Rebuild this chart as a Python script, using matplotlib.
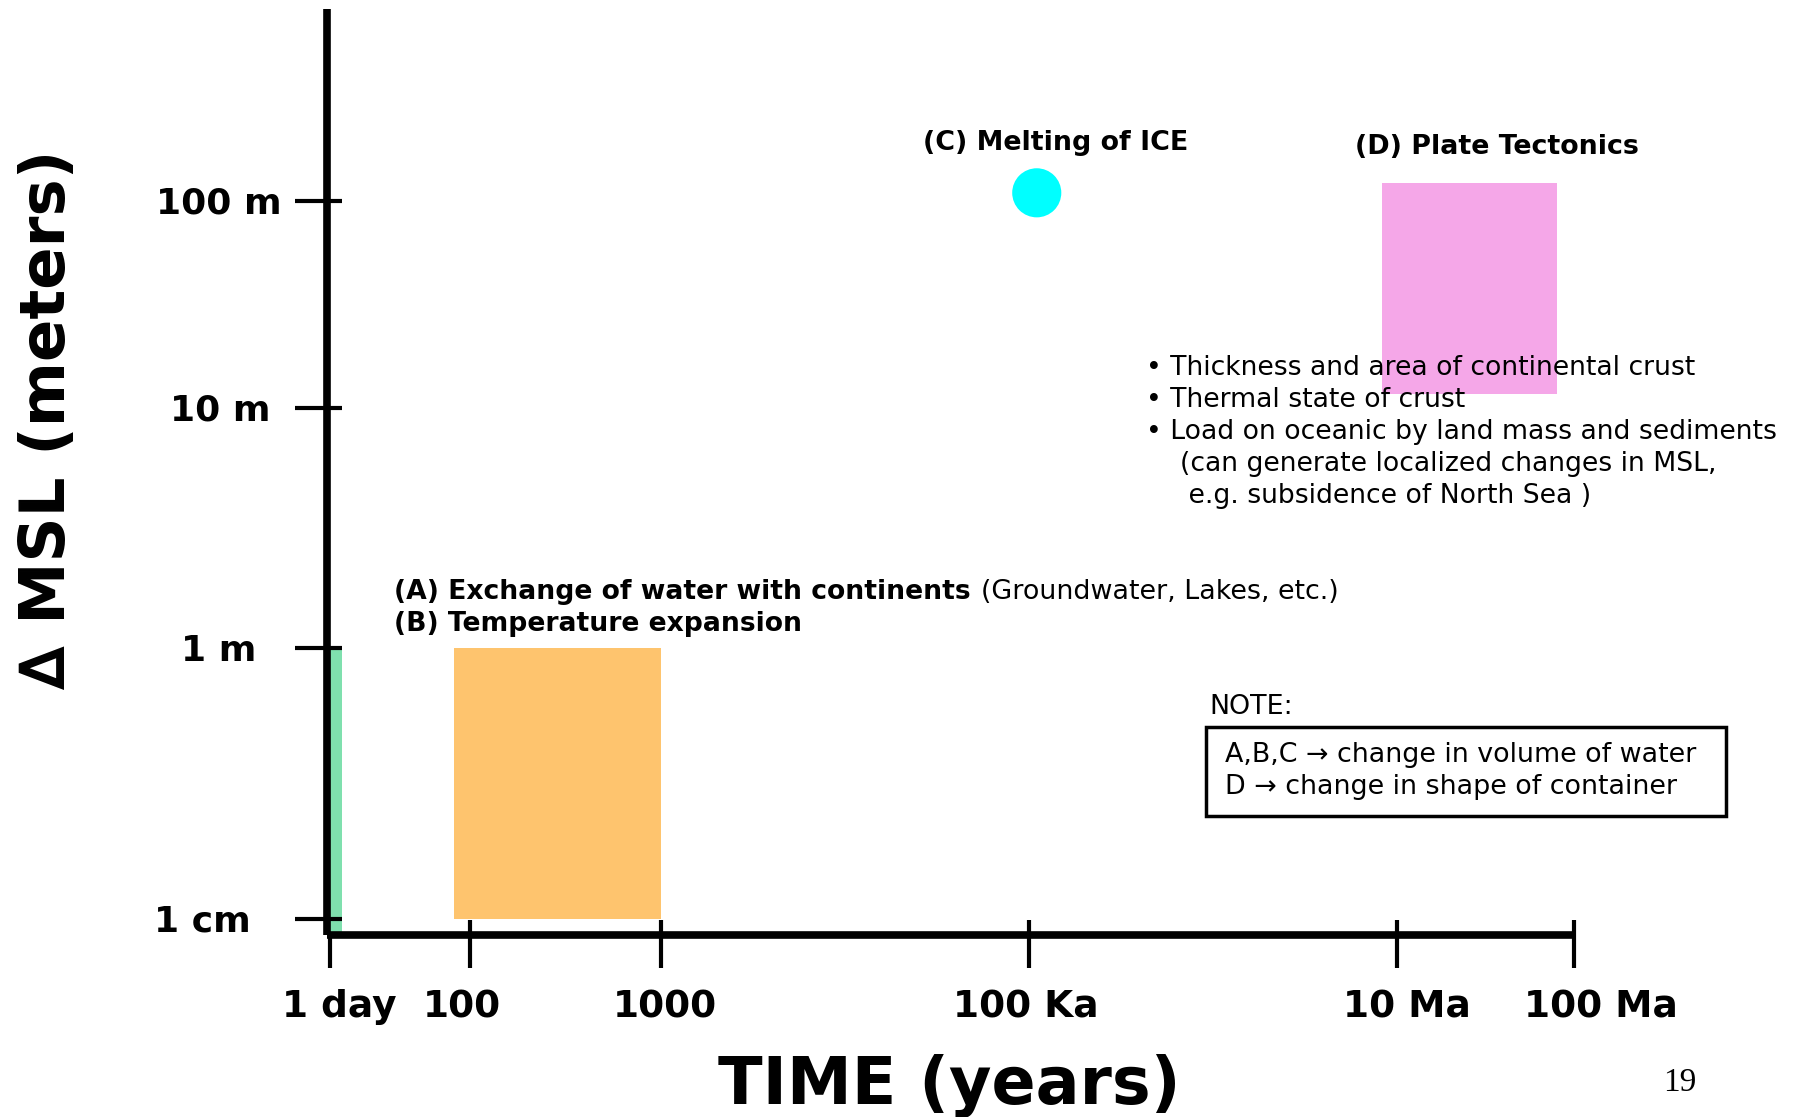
import numpy as np
import matplotlib
matplotlib.use("Agg")
import matplotlib.pyplot as plt
from matplotlib.patches import Rectangle
from matplotlib.transforms import offset_copy

# ---- data (schematic) ----
x_tick_years = [1 / 365, 100, 1000, 1e5, 1e7, 1e8]
x_tick_labels = ["1 day", "100", "1000", "100 Ka", "10 Ma", "100 Ma"]
y_tick_m = [0.01, 1, 10, 100]
y_tick_labels = ["1 cm", "1 m", "10 m", "100 m"]

green_years = [1 / 365, 0.0066]     # short term
green_m = [0.0076, 1]
orange_years = [30, 1000]           # (A) + (B)
orange_m = [0.01, 1]
ice_years = 1.1e5                   # (C)
ice_m = 109
pink_years = [8.3e6, 8.1e7]         # (D)
pink_m = [11.7, 121]

# the slide axis is not a true log axis: piecewise log scale through the ticks
x_knots = [288, 410, 577, 898, 1219, 1373]
y_knots = [-802, -566, -356, -175]

# label nudges (pixels) as on the slide
x_label_dx = [9, -7.5, 3.5, -3, 10, 27]
y_label_dx = [-16, 0, 2, 0]


def piecewise_log(vals, knots):
    lv = np.log10(vals)
    kn = np.asarray(knots, float)
    s0 = (kn[1] - kn[0]) / (lv[1] - lv[0])
    s1 = (kn[-1] - kn[-2]) / (lv[-1] - lv[-2])

    def fwd(v):
        v = np.log10(np.clip(np.asarray(v, float), 1e-12, None))
        out = np.interp(v, lv, kn)
        out = np.where(v < lv[0], kn[0] + (v - lv[0]) * s0, out)
        out = np.where(v > lv[-1], kn[-1] + (v - lv[-1]) * s1, out)
        return out

    def inv(p):
        p = np.asarray(p, float)
        out = np.interp(p, kn, lv)
        out = np.where(p < kn[0], lv[0] + (p - kn[0]) / s0, out)
        out = np.where(p > kn[-1], lv[-1] + (p - kn[-1]) / s1, out)
        return 10 ** out

    return fwd, inv


def at(x, y):
    # position on the slide (1568x975 layout) -> figure fraction
    return x / 1568, 1 - y / 975


fig = plt.figure(figsize=(17.97, 11.17), dpi=100)
ax = fig.add_axes([285 / 1568, 1 - 816 / 975, (1373 - 285) / 1568, (816 - 8) / 975])

ax.set_xscale("function", functions=piecewise_log(x_tick_years, x_knots))
ax.set_yscale("function", functions=piecewise_log(y_tick_m, y_knots))
ax.set_xlim(0.00212, 1e8)
ax.set_ylim(0.0076, 838)

# marks
ax.bar(green_years[0], green_m[1] - green_m[0], width=green_years[1] - green_years[0],
       bottom=green_m[0], align="edge", color="#7fe0ae", zorder=1)
ax.bar(orange_years[0], orange_m[1] - orange_m[0], width=orange_years[1] - orange_years[0],
       bottom=orange_m[0], align="edge", color="#fec46e", zorder=1)
ax.bar(pink_years[0], pink_m[1] - pink_m[0], width=pink_years[1] - pink_years[0],
       bottom=pink_m[0], align="edge", color="#f5a7e8", zorder=1)
ax.scatter([ice_years], [ice_m], s=1250, color="#00ffff", edgecolors="none", zorder=3)

# axes styling
for side in ["top", "right"]:
    ax.spines[side].set_visible(False)
for side in ["left", "bottom"]:
    ax.spines[side].set_linewidth(5.5)
    ax.spines[side].set_capstyle("butt")

ax.set_xticks(x_tick_years)
ax.set_xticks(x_tick_years[1:], minor=True)
ax.set_yticks(y_tick_m)
ax.set_yticks(y_tick_m, minor=True)
ax.xaxis.remove_overlapping_locs = False
ax.yaxis.remove_overlapping_locs = False
ax.tick_params(axis="x", which="major", direction="out", length=24, width=3, labelbottom=False)
ax.tick_params(axis="x", which="minor", direction="in", length=11, width=3)
ax.tick_params(axis="y", which="major", direction="out", length=23, width=3, labelleft=False)
ax.tick_params(axis="y", which="minor", direction="in", length=11, width=3)

# tick labels, placed like on the slide
for xv, lab, dx in zip(x_tick_years, x_tick_labels, x_label_dx):
    tr = offset_copy(ax.get_xaxis_transform(), fig=fig, x=dx, y=-82.5, units="dots")
    ax.text(xv, 0, lab, transform=tr, fontsize=27, fontweight="bold",
            ha="center", va="baseline", clip_on=False)
for yv, lab, dx in zip(y_tick_m, y_tick_labels, y_label_dx):
    tr = offset_copy(ax.get_yaxis_transform(), fig=fig, x=-108 + dx, y=-3, units="dots")
    ax.text(0, yv, lab, transform=tr, fontsize=26, fontweight="bold",
            ha="center", va="center", clip_on=False)

# axis titles
fig.text(*at(42, 366), "\u2206 MSL (meters)", rotation=90, fontsize=45, fontweight="bold",
         ha="center", va="center")
fig.text(*at(828, 964), "TIME (years)", fontsize=47, fontweight="bold",
         ha="center", va="baseline")
fig.text(*at(1466, 945), "19", fontsize=24, family="Liberation Serif",
         ha="center", va="center")

# annotations
fig.text(*at(805, 125), "(C) Melting of ICE", fontsize=19.4, fontweight="bold", va="center")
fig.text(*at(1182, 128), "(D) Plate Tectonics", fontsize=19.4, fontweight="bold", va="center")
fig.text(*at(344, 517), "(A) Exchange of water with continents", fontsize=19.2,
         fontweight="bold", va="center")
fig.text(*at(856, 517), "(Groundwater, Lakes, etc.)", fontsize=19.4, va="center")
fig.text(*at(344, 545), "(B) Temperature expansion", fontsize=19.2, fontweight="bold",
         va="center")

bullets = [
    "\u2022 Thickness and area of continental crust",
    "\u2022 Thermal state of crust",
    "\u2022 Load on oceanic by land mass and sediments",
    "    (can generate localized changes in MSL,",
    "     e.g. subsidence of North Sea )",
]
for i, line in enumerate(bullets):
    fig.text(*at(1000, 321 + 28 * i), line, fontsize=19.2, va="center")

fig.text(*at(1055, 617), "NOTE:", fontsize=19.4, va="center")
x0, y1 = at(1052, 712)
x1, y0 = at(1506, 635)
fig.patches.append(Rectangle((x0, y1), x1 - x0, y0 - y1, transform=fig.transFigure,
                             fill=False, edgecolor="black", linewidth=2.5))
fig.text(*at(1069, 659), "A,B,C \u2192 change in volume of water", fontsize=19.4, va="center")
fig.text(*at(1069, 687), "D \u2192 change in shape of container", fontsize=19.4, va="center")

fig.savefig("out.png", dpi=100)
